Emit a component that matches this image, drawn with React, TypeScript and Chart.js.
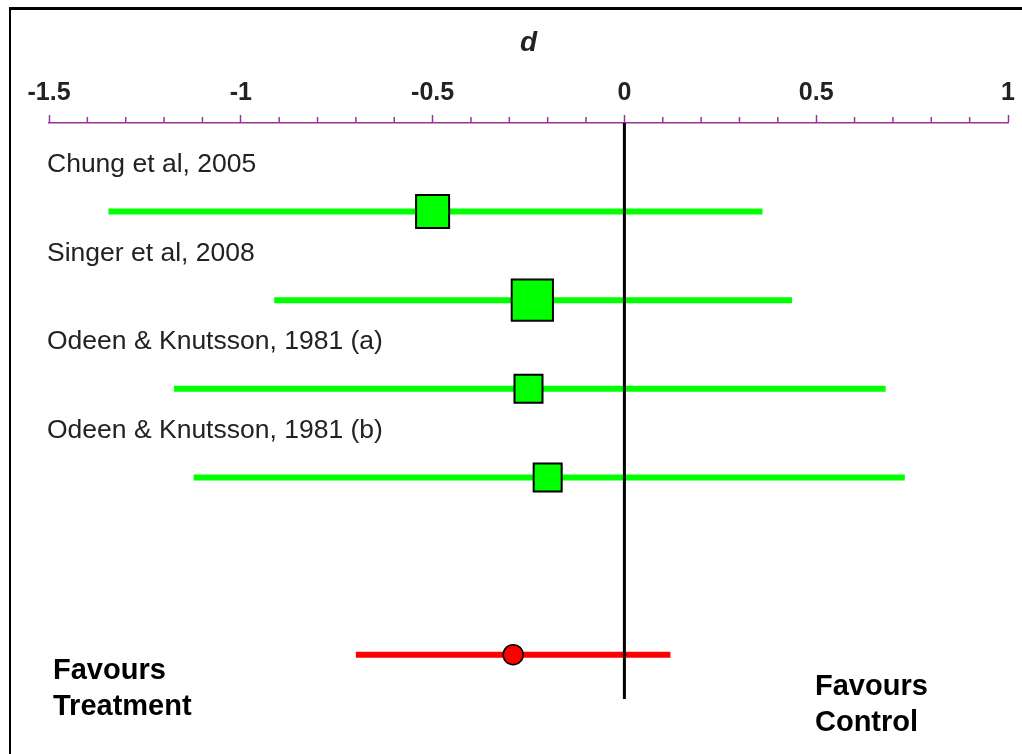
import React, { useEffect, useRef } from "react";
import { Chart, registerables } from "chart.js";

Chart.register(...registerables);

// ---- data ----
const studies = [
  "Chung et al, 2005",
  "Singer et al, 2008",
  "Odeen & Knutsson, 1981 (a)",
  "Odeen & Knutsson, 1981 (b)",
];
const effectD = [-0.5, -0.24, -0.25, -0.2];
const lowerCI = [-1.345, -0.913, -1.174, -1.123];
const upperCI = [0.36, 0.437, 0.681, 0.731];
const weights = [25, 39, 18, 18];
const pooledD = -0.29;
const pooledLower = -0.7;
const pooledUpper = 0.12;
const xTickMin = -1.5;
const xTickMax = 1;
const sideLabels = {
  left: ["Favours", "Treatment"],
  right: ["Favours", "Control"],
};

const FONT = "'Liberation Sans', Arial, Helvetica, sans-serif";
const PURPLE = "#993399";

export default function App() {
  const ref = useRef<HTMLCanvasElement | null>(null);

  useEffect(() => {
    if (!ref.current) return;
    const summaryRow = studies.length + 1;

    const datasets: any[] = [];
    // study markers (on top)
    datasets.push({
      type: "scatter",
      data: effectD.map((d, i) => ({ x: d, y: i })),
      pointStyle: "rect",
      pointRadius: weights.map((w) => (6.6 * Math.sqrt(w)) / Math.SQRT2),
      backgroundColor: "#00ff00",
      borderColor: "#000000",
      pointBorderWidth: 2,
      order: 0,
    });
    datasets.push({
      type: "scatter",
      data: [{ x: pooledD, y: summaryRow }],
      pointStyle: "circle",
      pointRadius: 10,
      backgroundColor: "#ff0000",
      borderColor: "#000000",
      pointBorderWidth: 1.5,
      order: 0,
    });
    // zero line
    datasets.push({
      type: "line",
      data: [
        { x: 0, y: -1 },
        { x: 0, y: summaryRow + 0.5 },
      ],
      borderColor: "#000000",
      borderWidth: 3,
      pointRadius: 0,
      order: 1,
    });
    // CI lines
    studies.forEach((_, i) => {
      datasets.push({
        type: "line",
        data: [
          { x: lowerCI[i], y: i },
          { x: upperCI[i], y: i },
        ],
        borderColor: "#00ff00",
        borderWidth: 6,
        borderCapStyle: "butt",
        pointRadius: 0,
        order: 2,
      });
    });
    datasets.push({
      type: "line",
      data: [
        { x: pooledLower, y: summaryRow },
        { x: pooledUpper, y: summaryRow },
      ],
      borderColor: "#ff0000",
      borderWidth: 6,
      borderCapStyle: "butt",
      pointRadius: 0,
      order: 2,
    });

    const isMajor = (v: number) => Math.abs(v * 2 - Math.round(v * 2)) < 1e-6;

    const decor = {
      id: "decor",
      beforeDraw(chart: any) {
        const { ctx } = chart;
        ctx.save();
        ctx.fillStyle = "#ffffff";
        ctx.fillRect(0, 0, chart.width, chart.height);
        ctx.restore();
      },
      afterDraw(chart: any) {
        const { ctx, chartArea } = chart;
        const xs = chart.scales.x;
        const ys = chart.scales.y;
        ctx.save();
        // frame
        ctx.fillStyle = "#000000";
        ctx.fillRect(9, 7, chart.width - 9, 3);
        ctx.fillRect(9, 7, 2, chart.height - 7);
        // minor ticks
        ctx.strokeStyle = PURPLE;
        ctx.lineWidth = 1.5;
        xs.ticks.forEach((t: any) => {
          if (isMajor(t.value)) return;
          const px = xs.getPixelForValue(t.value);
          ctx.beginPath();
          ctx.moveTo(px, chartArea.top);
          ctx.lineTo(px, chartArea.top - 6);
          ctx.stroke();
        });
        // study labels
        ctx.fillStyle = "#222222";
        ctx.font = `26.5px ${FONT}`;
        ctx.textBaseline = "middle";
        ctx.textAlign = "left";
        studies.forEach((s, i) => {
          ctx.fillText(s, chartArea.left - 2, ys.getPixelForValue(i - 0.527));
        });
        // favours labels
        ctx.fillStyle = "#000000";
        ctx.font = `bold 29px ${FONT}`;
        ctx.textBaseline = "middle";
        sideLabels.left.forEach((t, i) => {
          ctx.fillText(t, 53, 671 + i * 36);
        });
        sideLabels.right.forEach((t, i) => {
          ctx.fillText(t, 815, 687 + i * 36);
        });
        ctx.restore();
      },
    };

    const chart = new Chart(ref.current, {
      data: { datasets },
      plugins: [decor],
      options: {
        animation: false,
        responsive: false,
        layout: { autoPadding: false, padding: { left: 49, right: 14, top: 8, bottom: 55 } },
        plugins: { legend: { display: false }, tooltip: { enabled: false } },
        scales: {
          x: {
            type: "linear",
            position: "top",
            min: xTickMin,
            max: xTickMax,
            afterBuildTicks: (scale: any) => {
              const t: any[] = [];
              for (let k = 0; k <= 25; k++) {
                t.push({ value: Math.round((xTickMin + k * 0.1) * 10) / 10 });
              }
              scale.ticks = t;
            },
            afterFit: (scale: any) => {
              scale.height = 115;
              scale.paddingLeft = 0;
              scale.paddingRight = 0;
            },
            ticks: {
              autoSkip: false,
              maxRotation: 0,
              minRotation: 0,
              padding: 7,
              color: "#222222",
              font: { family: FONT, size: 25, weight: "bold" },
              callback: (v: any) => (isMajor(Number(v)) ? String(Number(v)) : ""),
            },
            grid: {
              display: true,
              drawOnChartArea: false,
              drawTicks: true,
              tickLength: 8,
              tickWidth: 1.5,
              tickColor: (c: any) =>
                c.tick && isMajor(c.tick.value) ? PURPLE : "rgba(0,0,0,0)",
            },
            border: { display: true, color: PURPLE, width: 1.5 },
            title: {
              display: true,
              text: "d",
              color: "#222222",
              font: { family: FONT, size: 28, weight: "bold", style: "italic" },
              padding: { top: 18, bottom: 0 },
            },
          },
          y: {
            type: "linear",
            display: false,
            reverse: true,
            min: -1,
            max: studies.length + 1.5,
          },
        },
      } as any,
    });
    return () => chart.destroy();
  }, []);

  return (
    <div style={{ position: "fixed", left: 0, top: 0, width: 1022, height: 754, background: "#fff" }}>
      <canvas ref={ref} width={1022} height={754} style={{ display: "block" }} />
    </div>
  );
}
